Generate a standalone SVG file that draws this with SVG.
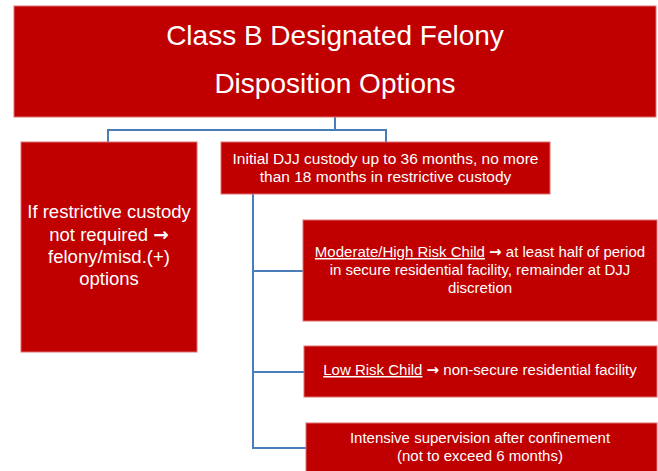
<svg xmlns="http://www.w3.org/2000/svg" width="658" height="471" viewBox="0 0 658 471">
  <style>
    .box { fill: #C00000; stroke: #E07070; stroke-width: 1; }
    .t { font-family: "Liberation Sans", Arial, sans-serif; fill: #FFFFFF; text-anchor: middle; }
    .title { font-size: 28px; }
    .big { font-size: 18.5px; }
    .mid { font-size: 15.5px; }
    .sm { font-size: 15px; }
    .u { text-decoration: underline; }
    .arr { font-family: "DejaVu Sans", sans-serif; font-weight: bold; }
    .conn { fill: none; stroke: #4A7EBB; stroke-width: 2; }
  </style>
  <rect width="658" height="471" fill="#FFFFFF"/>

  <g id="connectors">
    <path class="conn" d="M335 117 V130 M108 130 H386 M108 129 V142 M386 129 V142"/>
    <path class="conn" d="M253 194 V448 M252 271 H303 M252 372 H304 M252 448 H306"/>
  </g>

  <g id="title">
    <rect class="box" x="14" y="6" width="642" height="111"/>
    <text class="t title" x="335" y="45">Class B Designated Felony</text>
    <text class="t title" x="335" y="93">Disposition Options</text>
  </g>

  <g id="not-required">
    <rect class="box" x="21" y="142" width="176" height="210"/>
    <text class="t big" x="109" y="218">If restrictive custody</text>
    <text class="t big" x="109" y="240.5">not required <tspan class="arr">→</tspan></text>
    <text class="t big" x="109" y="263">felony/misd.(+)</text>
    <text class="t big" x="109" y="285">options</text>
  </g>

  <g id="initial-custody">
    <rect class="box" x="221" y="142" width="329" height="52"/>
    <text class="t mid" x="385.5" y="164">Initial DJJ custody up to 36 months, no more</text>
    <text class="t mid" x="385.5" y="182">than 18 months in restrictive custody</text>
  </g>

  <g id="moderate-high">
    <rect class="box" x="303" y="220" width="354" height="101"/>
    <text class="t sm" x="480" y="257"><tspan class="u">Moderate/High Risk Child</tspan> <tspan class="arr">→</tspan> at least half of period</text>
    <text class="t sm" x="480" y="275">in secure residential facility, remainder at DJJ</text>
    <text class="t sm" x="480" y="293">discretion</text>
  </g>

  <g id="low-risk">
    <rect class="box" x="304" y="346" width="353" height="51"/>
    <text class="t sm" x="480" y="375"><tspan class="u">Low Risk Child</tspan> <tspan class="arr">→</tspan> non-secure residential facility</text>
  </g>

  <g id="intensive">
    <rect class="box" x="306" y="423" width="351" height="54"/>
    <text class="t sm" x="480" y="443">Intensive supervision after confinement</text>
    <text class="t sm" x="480" y="461">(not to exceed 6 months)</text>
  </g>
</svg>
